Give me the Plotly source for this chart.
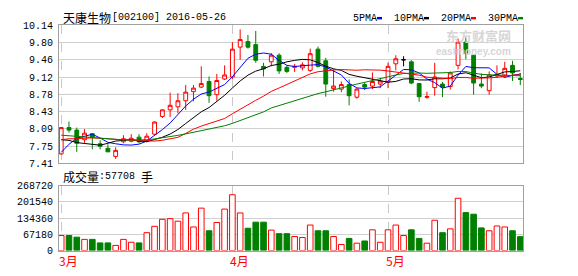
import numpy as np
import pandas as pd
import plotly.graph_objects as go

# ---------------- data ----------------
stock_name = "天康生物"
stock_code = "002100"
last_date = "2016-05-26"
holidays = ["2016-04-04", "2016-05-02"]
dates = [d.strftime("%Y-%m-%d") for d in pd.bdate_range("2016-03-02", last_date)
         if d.strftime("%Y-%m-%d") not in holidays]

open_p = [7.60, 8.12, 8.07, 7.88, 8.00, 7.80, 7.71, 7.55, 7.84, 7.85,
          7.93, 7.86, 7.99, 8.34, 8.47, 8.53, 8.65, 8.83, 8.92, 9.03,
          8.77, 9.08, 9.12, 9.71, 9.82, 9.76, 9.33, 9.42, 9.55, 9.31,
          9.31, 9.30, 9.25, 9.67, 9.44, 8.89, 8.88, 8.97, 8.72, 8.97,
          8.94, 8.98, 9.02, 9.38, 9.46, 9.42, 8.99, 8.72, 8.91, 8.98,
          8.93, 9.35, 9.81, 9.55, 8.98, 8.85, 9.14, 9.16, 9.35, 9.09]
high_p = [8.13, 8.24, 8.12, 8.09, 8.00, 7.87, 7.79, 7.73, 7.97, 7.99,
          7.99, 8.01, 8.24, 8.48, 8.81, 8.80, 8.96, 8.96, 9.33, 9.13,
          9.18, 9.35, 9.81, 10.06, 9.95, 10.03, 9.40, 9.59, 9.59, 9.35,
          9.38, 9.41, 9.68, 9.72, 9.50, 9.27, 9.03, 9.07, 8.90, 9.02,
          9.21, 9.10, 9.40, 9.55, 9.53, 9.45, 8.99, 8.83, 9.40, 9.02,
          9.23, 9.88, 9.90, 9.55, 9.19, 9.23, 9.35, 9.42, 9.44, 9.20]
low_p = [7.58, 8.02, 7.64, 7.82, 7.69, 7.69, 7.64, 7.50, 7.81, 7.83,
         7.81, 7.83, 7.98, 8.31, 8.33, 8.40, 8.47, 8.64, 8.90, 8.61,
         8.65, 9.06, 9.08, 9.46, 9.68, 9.40, 9.13, 9.33, 9.18, 9.20,
         9.22, 9.25, 9.22, 9.31, 8.73, 8.83, 8.82, 8.56, 8.69, 8.86,
         8.88, 8.90, 8.90, 9.25, 9.33, 8.98, 8.63, 8.69, 8.75, 8.72,
         8.87, 9.27, 9.47, 8.77, 8.90, 8.77, 9.10, 9.11, 9.04, 8.96]
close_p = [8.12, 8.07, 7.81, 8.01, 7.93, 7.75, 7.64, 7.67, 7.90, 7.91,
           7.84, 7.95, 8.23, 8.47, 8.56, 8.65, 8.82, 8.90, 8.99, 8.75,
           9.05, 9.16, 9.67, 9.86, 9.71, 9.45, 9.28, 9.55, 9.24, 9.23,
           9.33, 9.36, 9.58, 9.33, 8.98, 8.94, 8.97, 8.75, 8.88, 8.92,
           9.03, 9.04, 9.33, 9.48, 9.46, 9.00, 8.73, 8.73, 9.12, 8.92,
           9.20, 9.81, 9.59, 9.00, 8.94, 9.16, 9.17, 9.29, 9.20, 9.07]
volume = [62180, 62180, 55570, 46300, 46300, 31750, 31750, 21170, 46300, 34400,
          31750, 74090, 100550, 129650, 132300, 121720, 156110, 97900, 175960, 82030,
          116420, 171990, 231530, 156110, 92610, 117750, 117750, 84670, 70120, 70120,
          58210, 54240, 105840, 82030, 82030, 58210, 25140, 50270, 30430, 39690,
          86000, 34400, 86000, 105840, 62180, 86000, 50270, 30430, 125690, 74090,
          89960, 216970, 157440, 150820, 93930, 82030, 101870, 97900, 82030, 57708]
# closes of the 29 sessions before the window (only used for the moving averages)
prior_close = [8.40, 8.30, 8.35, 8.25, 8.20, 8.10, 8.05, 7.95, 7.90, 8.00,
               7.70, 7.75, 7.85, 7.80, 7.90, 7.95, 7.92, 7.98, 8.00, 7.95,
               8.20, 8.25, 8.15, 8.10, 7.95,
               7.27, 7.22, 7.78, 7.76]

ma_periods = [5, 10, 20, 30]
ma_names = ["5PMA", "10PMA", "20PMA", "30PMA"]
ma_colors = ["#0000ff", "#000000", "#ff0000", "#008000"]

price_lo, price_hi = 7.41, 10.14
vol_hi = 268720

# ---------------- styling ----------------
W, H = 578, 276
ML, MR = 59, 55
PW = W - ML - MR
RED, GREEN = "#ff0000", "#008000"
FRAME = "#a0a0a0"
GRID = "#d0d0d0"
MONO = "Liberation Mono, DejaVu Sans Mono, monospace"
CJK = "Noto Sans CJK SC, sans-serif"


def px_x(p):
    return (p - ML) / PW


def px_y(p):
    return (H - p) / H


n = len(close_p)
idx = list(range(n))
month_starts = [i for i in idx if i == 0 or dates[i][5:7] != dates[i - 1][5:7]]
month_labels = [f"{int(dates[i][5:7])}月" for i in month_starts]

all_close = pd.Series(prior_close + close_p)
mas = [all_close.rolling(p).mean().iloc[-n:].tolist() for p in ma_periods]

fig = go.Figure()


def pick(arr, cond):
    return [a if c else None for a, c in zip(arr, cond)]


is_doji = [o == c for o, c in zip(open_p, close_p)]
not_doji = [not d for d in is_doji]

fig.add_trace(go.Candlestick(
    x=idx, open=pick(open_p, not_doji), high=pick(high_p, not_doji),
    low=pick(low_p, not_doji), close=pick(close_p, not_doji),
    increasing=dict(line=dict(color=RED, width=1), fillcolor="#ffffff"),
    decreasing=dict(line=dict(color=GREEN, width=1), fillcolor=GREEN),
    whiskerwidth=0, xaxis="x", yaxis="y", hoverinfo="skip"))
fig.add_trace(go.Candlestick(
    x=idx, open=pick(open_p, is_doji), high=pick(high_p, is_doji),
    low=pick(low_p, is_doji), close=pick(close_p, is_doji),
    increasing=dict(line=dict(color="#000000", width=1), fillcolor="#000000"),
    decreasing=dict(line=dict(color="#000000", width=1), fillcolor="#000000"),
    whiskerwidth=0, xaxis="x", yaxis="y", hoverinfo="skip"))

for vals, col in zip(mas, ma_colors):
    fig.add_trace(go.Scatter(x=idx, y=vals, mode="lines",
                             line=dict(color=col, width=1),
                             xaxis="x", yaxis="y", hoverinfo="skip"))

up = [c >= o for o, c in zip(open_p, close_p)]
fig.add_trace(go.Bar(
    x=idx, y=volume, width=0.72,
    marker=dict(color=["#ffffff" if u else GREEN for u in up],
                line=dict(color=[RED if u else GREEN for u in up], width=1)),
    xaxis="x2", yaxis="y2", hoverinfo="skip"))

xrange = [-0.283, n - 1 + 0.347]
price_ticks = list(np.linspace(price_lo, price_hi, 9))
vol_ticks = list(np.linspace(0, vol_hi, 5))

common_x = dict(range=xrange, tickvals=month_starts, showticklabels=False,
                showgrid=True, gridcolor="#c8c8c8", griddash="dash", gridwidth=1,
                showline=True, linecolor=FRAME, linewidth=1, mirror=True,
                zeroline=False, ticks="", fixedrange=True)
common_y = dict(showgrid=True, gridcolor=GRID, gridwidth=1, showline=True,
                linecolor=FRAME, linewidth=1, mirror=True, zeroline=False,
                ticks="outside", ticklen=3, tickcolor="rgba(0,0,0,0)",
                tickfont=dict(family=MONO, size=10, color="#000000"),
                fixedrange=True)

fig.update_layout(
    width=W, height=H, margin=dict(l=ML, r=MR, t=0, b=0, pad=0),
    paper_bgcolor="#ffffff", plot_bgcolor="#ffffff", showlegend=False,
    xaxis=dict(common_x, anchor="y", domain=[0, 1], rangeslider=dict(visible=False)),
    yaxis=dict(common_y, range=[price_lo, price_hi], domain=[px_y(165.7), px_y(21.3)],
               tickvals=price_ticks, ticktext=[f"{v:.2f}" for v in price_ticks]),
    xaxis2=dict(common_x, anchor="y2", domain=[0, 1]),
    yaxis2=dict(common_y, range=[0, vol_hi], domain=[px_y(256.7), px_y(189)],
                tickvals=vol_ticks, ticktext=[f"{int(round(v))}" for v in vol_ticks]),
)

# darker middle gridline of the price panel
fig.add_shape(type="line", xref="x domain", yref="y", x0=0, x1=1,
              y0=price_ticks[4], y1=price_ticks[4], line=dict(color="#a8a8a8", width=1),
              layer="below")

ann = []
# title
ann.append(dict(x=px_x(61), y=px_y(13), text=stock_name, font=dict(family=CJK, size=12)))
ann.append(dict(x=px_x(110), y=px_y(13), text=f"[{stock_code}] {last_date}",
                font=dict(family=MONO, size=10)))
# legend
lx = 351
for name, col in zip(ma_names, ma_colors):
    ann.append(dict(x=px_x(lx), y=px_y(14), text=name, font=dict(family=MONO, size=10)))
    mx = lx + len(name) * 6 + 2
    fig.add_shape(type="rect", xref="paper", yref="paper", x0=px_x(mx), x1=px_x(mx + 5),
                  y0=px_y(15), y1=px_y(12.5), line=dict(width=0), fillcolor=col)
    lx = mx + 5 + 10
# volume header
ann.append(dict(x=px_x(61), y=px_y(179), text="成交量", font=dict(family=CJK, size=12)))
ann.append(dict(x=px_x(97), y=px_y(179), text=f":{volume[-1]}", font=dict(family=MONO, size=10)))
ann.append(dict(x=px_x(139), y=px_y(179), text="手", font=dict(family=CJK, size=12)))
# watermark
ann.append(dict(x=px_x(444), y=px_y(32), text="<b>东方财富网</b>",
                font=dict(family=CJK, size=13, color="#d6d6d6")))
ann.append(dict(x=px_x(434), y=px_y(48.5), text="<b>eastmoney.com</b>",
                font=dict(family="Liberation Sans, sans-serif", size=10, color="#d6d6d6")))

for a in ann:
    a.update(xref="paper", yref="paper", xanchor="left", yanchor="middle",
             showarrow=False)
    a["font"].setdefault("color", "#000000")
    fig.add_annotation(**a)

# month labels under the volume panel
for ms, lab in zip(month_starts, month_labels):
    fig.add_annotation(x=ms, xref="x2", y=px_y(267), yref="paper", text=lab,
                       xanchor="left", yanchor="middle", xshift=-4, showarrow=False,
                       font=dict(family=CJK, size=12, color=RED))

fig.write_html("out.html")
